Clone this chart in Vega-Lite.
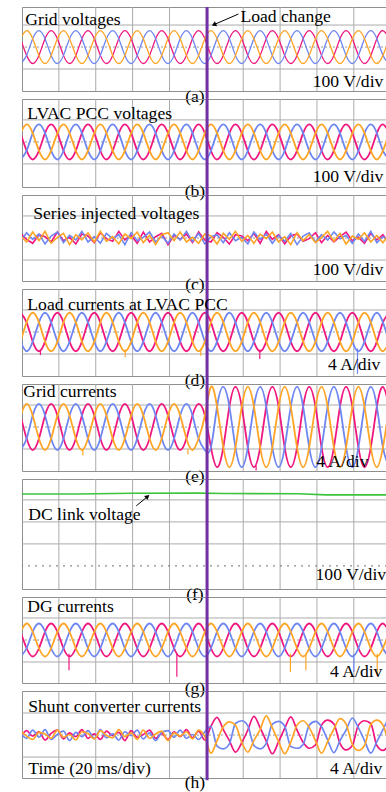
{
"$schema":"https://vega.github.io/schema/vega-lite/v6.json",
"padding":{"left":21,"top":5,"right":0,"bottom":0},
"background":"white",
"bounds":"flush",
"spacing":8,
"config":{"view":{"stroke":"#8f8f8f","strokeWidth":1},"font":"Liberation Serif"},
"datasets":{
"xg":[{"t":20},{"t":40},{"t":60},{"t":80},{"t":100},{"t":120},{"t":140},{"t":160},{"t":180}],
"dc":[{"t":0,"v":327},{"t":30,"v":327},{"t":60,"v":330},{"t":95,"v":331},{"t":110,"v":329},{"t":150,"v":328},{"t":165,"v":323},{"t":198,"v":323}],
"sp":[{"p":"d","t":10,"v":-3.2,"v2":-4.2,"ph":"dp"},{"p":"d","t":56,"v":-3.2,"v2":-4.6,"ph":"do"},{"p":"d","t":97,"v":-3.0,"v2":-4.3,"ph":"do"},{"p":"d","t":129,"v":-3.2,"v2":-4.9,"ph":"dp"},{"p":"d","t":182,"v":-3.0,"v2":-7.6,"ph":"db"},{"p":"e","t":33,"v":-4.0,"v2":-5.2,"ph":"eo"},{"p":"e","t":90,"v":-4.0,"v2":-5.0,"ph":"eo"},{"p":"e","t":127,"v":-7.0,"v2":-7.9,"ph":"ep"},{"p":"g","t":25.5,"v":-2.5,"v2":-5.5,"ph":"gp"},{"p":"g","t":84,"v":-2.5,"v2":-6.7,"ph":"gp"},{"p":"g","t":145.6,"v":-2.5,"v2":-5.8,"ph":"go"},{"p":"g","t":154,"v":-2.5,"v2":-5.5,"ph":"go"},{"p":"g","t":180,"v":-2.5,"v2":-5.8,"ph":"gb"},{"p":"g","t":192.7,"v":-2.5,"v2":-6.5,"ph":"go"}],
"w":[
{"t":-0.8,"ao":38,"ab":-75,"ap":38,"bo":40,"bb":-80,"bp":40,"co":9,"cb":-15,"cp":21,"do":-1.75,"db":-1.75,"dp":3.5,"eo":2.1,"eb":-4.2,"ep":2.1,"go":1.5,"gb":-3,"gp":1.5,"ho":0.7,"hb":0.3,"hp":-0.5},
{"t":2.5,"ao":75,"ab":-38,"ap":-38,"bo":80,"bb":-40,"bp":-40,"co":-18,"cb":24,"cp":-6,"do":1.75,"db":-3.5,"dp":1.75,"eo":4.2,"eb":-2.1,"ep":-2.1,"go":3,"gb":-1.5,"gp":-1.5,"ho":-0.2,"hb":-0.6,"hp":0.8},
{"t":5.8,"ao":38,"ab":38,"ap":-75,"bo":40,"bb":40,"bp":-80,"co":27,"cb":-6,"cp":-24,"do":3.5,"db":-1.75,"dp":-1.75,"eo":2.1,"eb":2.1,"ep":-4.2,"go":1.5,"gb":1.5,"gp":-3,"ho":-0.8,"hb":0.9,"hp":-0.2},
{"t":9.2,"ao":-38,"ab":75,"ap":-38,"bo":-40,"bb":80,"bp":-40,"co":-12,"cb":18,"cp":15,"do":1.75,"db":1.75,"dp":-3.5,"eo":-2.1,"eb":4.2,"ep":-2.1,"go":-1.5,"gb":3,"gp":-1.5,"ho":0.5,"hb":-0.4,"hp":0.6},
{"t":12.5,"ao":-75,"ab":38,"ap":38,"bo":-80,"bb":40,"bp":40,"co":30,"cb":-27,"cp":6,"do":-1.75,"db":3.5,"dp":-1.75,"eo":-4.2,"eb":2.1,"ep":2.1,"go":-3,"gb":1.5,"gp":1.5,"ho":0.2,"hb":1,"hp":-0.9},
{"t":15.8,"ao":-38,"ab":-38,"ap":75,"bo":-40,"bb":-40,"bp":80,"co":-24,"cb":9,"cp":-18,"do":-3.5,"db":1.75,"dp":1.75,"eo":-2.1,"eb":-2.1,"ep":4.2,"go":-1.5,"gb":-1.5,"gp":3,"ho":-0.6,"hb":-0.8,"hp":0.3},
{"t":19.2,"ao":38,"ab":-75,"ap":38,"bo":40,"bb":-80,"bp":40,"co":3,"cb":27,"cp":27,"do":-1.75,"db":-1.75,"dp":3.5,"eo":2.1,"eb":-4.2,"ep":2.1,"go":1.5,"gb":-3,"gp":1.5,"ho":0.9,"hb":0.1,"hp":0.9},
{"t":22.5,"ao":75,"ab":-38,"ap":-38,"bo":80,"bb":-40,"bp":-40,"co":21,"cb":-21,"cp":-12,"do":1.75,"db":-3.5,"dp":1.75,"eo":4.2,"eb":-2.1,"ep":-2.1,"go":3,"gb":-1.5,"gp":-1.5,"ho":-0.4,"hb":0.7,"hp":-0.7},
{"t":25.8,"ao":38,"ab":38,"ap":-75,"bo":40,"bb":40,"bp":-80,"co":-30,"cb":12,"cp":3,"do":3.5,"db":-1.75,"dp":-1.75,"eo":2.1,"eb":2.1,"ep":-4.2,"go":1.5,"gb":1.5,"gp":-3,"ho":0.1,"hb":-1,"hp":0.4},
{"t":29.2,"ao":-38,"ab":75,"ap":-38,"bo":-40,"bb":80,"bp":-40,"co":15,"cb":-9,"cp":-27,"do":1.75,"db":1.75,"dp":-3.5,"eo":-2.1,"eb":4.2,"ep":-2.1,"go":-1.5,"gb":3,"gp":-1.5,"ho":-0.9,"hb":0.5,"hp":-0.3},
{"t":32.5,"ao":-75,"ab":38,"ap":38,"bo":-80,"bb":40,"bp":40,"co":-9,"cb":30,"cp":18,"do":-1.75,"db":3.5,"dp":-1.75,"eo":-4.2,"eb":2.1,"ep":2.1,"go":-3,"gb":1.5,"gp":1.5,"ho":0.6,"hb":-0.3,"hp":1},
{"t":35.8,"ao":-38,"ab":-38,"ap":75,"bo":-40,"bb":-40,"bp":80,"co":24,"cb":-18,"cp":9,"do":-3.5,"db":1.75,"dp":1.75,"eo":-2.1,"eb":-2.1,"ep":4.2,"go":-1.5,"gb":-1.5,"gp":3,"ho":0.3,"hb":0.8,"hp":-0.6},
{"t":39.2,"ao":38,"ab":-75,"ap":38,"bo":40,"bb":-80,"bp":40,"co":-18,"cb":6,"cp":-21,"do":-1.75,"db":-1.75,"dp":3.5,"eo":2.1,"eb":-4.2,"ep":2.1,"go":1.5,"gb":-3,"gp":1.5,"ho":-0.7,"hb":-0.6,"hp":0.2},
{"t":42.5,"ao":75,"ab":-38,"ap":-38,"bo":80,"bb":-40,"bp":-40,"co":30,"cb":-24,"cp":24,"do":1.75,"db":-3.5,"dp":1.75,"eo":4.2,"eb":-2.1,"ep":-2.1,"go":3,"gb":-1.5,"gp":-1.5,"ho":0.8,"hb":1,"hp":-0.8},
{"t":45.8,"ao":38,"ab":38,"ap":-75,"bo":40,"bb":40,"bp":-80,"co":-15,"cb":21,"cp":-3,"do":3.5,"db":-1.75,"dp":-1.75,"eo":2.1,"eb":2.1,"ep":-4.2,"go":1.5,"gb":1.5,"gp":-3,"ho":-0.1,"hb":-0.5,"hp":0.7},
{"t":49.2,"ao":-38,"ab":75,"ap":-38,"bo":-40,"bb":80,"bp":-40,"co":6,"cb":-3,"cp":-15,"do":1.75,"db":1.75,"dp":-3.5,"eo":-2.1,"eb":4.2,"ep":-2.1,"go":-1.5,"gb":3,"gp":-1.5,"ho":-0.5,"hb":0.2,"hp":-0.1},
{"t":52.5,"ao":-75,"ab":38,"ap":38,"bo":-80,"bb":40,"bp":40,"co":-27,"cb":15,"cp":30,"do":-1.75,"db":3.5,"dp":-1.75,"eo":-4.2,"eb":2.1,"ep":2.1,"go":-3,"gb":1.5,"gp":1.5,"ho":1,"hb":-0.9,"hp":0.5},
{"t":55.8,"ao":-38,"ab":-38,"ap":75,"bo":-40,"bb":-40,"bp":80,"co":18,"cb":-30,"cp":-9,"do":-3.5,"db":1.75,"dp":1.75,"eo":-2.1,"eb":-2.1,"ep":4.2,"go":-1.5,"gb":-1.5,"gp":3,"ho":-0.3,"hb":0.6,"hp":-1},
{"t":59.2,"ao":38,"ab":-75,"ap":38,"bo":40,"bb":-80,"bp":40,"co":-3,"cb":24,"cp":12,"do":-1.75,"db":-1.75,"dp":3.5,"eo":2.1,"eb":-4.2,"ep":2.1,"go":1.5,"gb":-3,"gp":1.5,"ho":0.4,"hb":-0.1,"hp":0.8},
{"t":62.5,"ao":75,"ab":-38,"ap":-38,"bo":80,"bb":-40,"bp":-40,"co":27,"cb":-12,"cp":-24,"do":1.75,"db":-3.5,"dp":1.75,"eo":4.2,"eb":-2.1,"ep":-2.1,"go":3,"gb":-1.5,"gp":-1.5,"ho":-0.8,"hb":0.9,"hp":-0.4},
{"t":65.8,"ao":38,"ab":38,"ap":-75,"bo":40,"bb":40,"bp":-80,"co":-21,"cb":3,"cp":27,"do":3.5,"db":-1.75,"dp":-1.75,"eo":2.1,"eb":2.1,"ep":-4.2,"go":1.5,"gb":1.5,"gp":-3,"ho":0.9,"hb":-0.7,"hp":0.1},
{"t":69.2,"ao":-38,"ab":75,"ap":-38,"bo":-40,"bb":80,"bp":-40,"co":12,"cb":27,"cp":-18,"do":1.75,"db":1.75,"dp":-3.5,"eo":-2.1,"eb":4.2,"ep":-2.1,"go":-1.5,"gb":3,"gp":-1.5,"ho":-0.6,"hb":0.4,"hp":0.9},
{"t":72.5,"ao":-75,"ab":38,"ap":38,"bo":-80,"bb":40,"bp":40,"co":-30,"cb":-18,"cp":6,"do":-1.75,"db":3.5,"dp":-1.75,"eo":-4.2,"eb":2.1,"ep":2.1,"go":-3,"gb":1.5,"gp":1.5,"ho":0.2,"hb":-1,"hp":-0.6},
{"t":75.8,"ao":-38,"ab":-38,"ap":75,"bo":-40,"bb":-40,"bp":80,"co":15,"cb":9,"cp":21,"do":-3.5,"db":1.75,"dp":1.75,"eo":-2.1,"eb":-2.1,"ep":4.2,"go":-1.5,"gb":-1.5,"gp":3,"ho":0.7,"hb":0.5,"hp":0.3},
{"t":79.2,"ao":38,"ab":-75,"ap":38,"bo":40,"bb":-80,"bp":40,"co":24,"cb":-24,"cp":-30,"do":-1.75,"db":-1.75,"dp":3.5,"eo":2.1,"eb":-4.2,"ep":2.1,"go":1.5,"gb":-3,"gp":1.5,"ho":-1,"hb":0.8,"hp":-0.8},
{"t":82.5,"ao":75,"ab":-38,"ap":-38,"bo":80,"bb":-40,"bp":-40,"co":-12,"cb":18,"cp":12,"do":1.75,"db":-3.5,"dp":1.75,"eo":4.2,"eb":-2.1,"ep":-2.1,"go":3,"gb":-1.5,"gp":-1.5,"ho":0.4,"hb":-0.4,"hp":0.6},
{"t":85.8,"ao":38,"ab":38,"ap":-75,"bo":40,"bb":40,"bp":-80,"co":27,"cb":-9,"cp":-6,"do":3.5,"db":-1.75,"dp":-1.75,"eo":2.1,"eb":2.1,"ep":-4.2,"go":1.5,"gb":1.5,"gp":-3,"ho":-0.2,"hb":0.9,"hp":-0.3},
{"t":89.2,"ao":-38,"ab":75,"ap":-38,"bo":-40,"bb":80,"bp":-40,"co":-18,"cb":30,"cp":18,"do":1.75,"db":1.75,"dp":-3.5,"eo":-2.1,"eb":4.2,"ep":-2.1,"go":-1.5,"gb":3,"gp":-1.5,"ho":0.6,"hb":-0.6,"hp":1},
{"t":92.5,"ao":-75,"ab":38,"ap":38,"bo":-80,"bb":40,"bp":40,"co":3,"cb":-15,"cp":-21,"do":-1.75,"db":3.5,"dp":-1.75,"eo":-4.2,"eb":2.1,"ep":2.1,"go":-3,"gb":1.5,"gp":1.5,"ho":-0.7,"hb":0.1,"hp":-0.5},
{"t":95.8,"ao":-38,"ab":-38,"ap":75,"bo":-40,"bb":-40,"bp":80,"co":-24,"cb":21,"cp":27,"do":-3.5,"db":1.75,"dp":1.75,"eo":-2.1,"eb":-2.1,"ep":4.2,"go":-1.5,"gb":-1.5,"gp":3,"ho":0.9,"hb":-0.8,"hp":0.7},
{"t":99.2,"ao":38,"ab":-75,"ap":38,"bo":40,"bb":-80,"bp":40,"co":18,"cb":-27,"cp":-9,"do":-1.75,"db":-1.75,"dp":3.5,"eo":2.1,"eb":-4.2,"ep":2.1,"go":1.5,"gb":-3,"gp":1.5,"ho":-0.3,"hb":0.6,"hp":-0.9},
{"t":102.5,"ao":75,"ab":-38,"ap":-38,"bo":80,"bb":-40,"bp":-40,"co":9,"cb":6,"cp":-18,"do":1.75,"db":-3.5,"dp":1.75,"eo":7.3,"eb":-3.7,"ep":-3.7,"go":3,"gb":-1.5,"gp":-1.5,"ho":-3.3,"hb":1.6,"hp":1.6},
{"t":105.8,"ao":38,"ab":38,"ap":-75,"bo":40,"bb":40,"bp":-80,"co":-27,"cb":15,"cp":24,"do":3.5,"db":-1.75,"dp":-1.75,"eo":3.7,"eb":3.7,"ep":-7.3,"go":1.5,"gb":1.5,"gp":-3,"ho":-1,"hb":-2,"hp":3.2},
{"t":109.2,"ao":-38,"ab":75,"ap":-38,"bo":-40,"bb":80,"bp":-40,"co":21,"cb":-21,"cp":3,"do":1.75,"db":1.75,"dp":-3.5,"eo":-3.7,"eb":7.3,"ep":-3.7,"go":-1.5,"gb":3,"gp":-1.5,"ho":1.5,"hb":-2.5,"hp":1},
{"t":112.5,"ao":-75,"ab":38,"ap":38,"bo":-80,"bb":40,"bp":40,"co":-6,"cb":24,"cp":-27,"do":-1.75,"db":3.5,"dp":-1.75,"eo":-7.3,"eb":3.7,"ep":3.7,"go":-3,"gb":1.5,"gp":1.5,"ho":2.4,"hb":-1.6,"hp":-1},
{"t":115.8,"ao":-38,"ab":-38,"ap":75,"bo":-40,"bb":-40,"bp":80,"co":30,"cb":-12,"cp":15,"do":-3.5,"db":1.75,"dp":1.75,"eo":-3.7,"eb":-3.7,"ep":7.3,"go":-1.5,"gb":-1.5,"gp":3,"ho":1.8,"hb":2.1,"hp":-3.1},
{"t":119.2,"ao":38,"ab":-75,"ap":38,"bo":40,"bb":-80,"bp":40,"co":-15,"cb":3,"cp":9,"do":-1.75,"db":-1.75,"dp":3.5,"eo":3.7,"eb":-7.3,"ep":3.7,"go":1.5,"gb":-3,"gp":1.5,"ho":-1.3,"hb":2.6,"hp":-1.4},
{"t":122.5,"ao":75,"ab":-38,"ap":-38,"bo":80,"bb":-40,"bp":-40,"co":12,"cb":-27,"cp":-12,"do":1.75,"db":-3.5,"dp":1.75,"eo":7.3,"eb":-3.7,"ep":-3.7,"go":3,"gb":-1.5,"gp":-1.5,"ho":-3.1,"hb":1.7,"hp":0.9},
{"t":125.8,"ao":38,"ab":38,"ap":-75,"bo":40,"bb":40,"bp":-80,"co":-24,"cb":27,"cp":21,"do":3.5,"db":-1.75,"dp":-1.75,"eo":3.7,"eb":3.7,"ep":-7.3,"go":1.5,"gb":1.5,"gp":-3,"ho":-1,"hb":-1.9,"hp":3.4},
{"t":129.2,"ao":-38,"ab":75,"ap":-38,"bo":-40,"bb":80,"bp":-40,"co":18,"cb":-6,"cp":-24,"do":1.75,"db":1.75,"dp":-3.5,"eo":-3.7,"eb":7.3,"ep":-3.7,"go":-1.5,"gb":3,"gp":-1.5,"ho":1,"hb":-2.5,"hp":1.3},
{"t":132.5,"ao":-75,"ab":38,"ap":38,"bo":-80,"bb":40,"bp":40,"co":-3,"cb":18,"cp":30,"do":-1.75,"db":3.5,"dp":-1.75,"eo":-7.3,"eb":3.7,"ep":3.7,"go":-3,"gb":1.5,"gp":1.5,"ho":3.5,"hb":-1.5,"hp":-1.1},
{"t":135.8,"ao":-38,"ab":-38,"ap":75,"bo":-40,"bb":-40,"bp":80,"co":27,"cb":-24,"cp":-6,"do":-3.5,"db":1.75,"dp":1.75,"eo":-3.7,"eb":-3.7,"ep":7.3,"go":-1.5,"gb":-1.5,"gp":3,"ho":1.3,"hb":2,"hp":-3.4},
{"t":139.2,"ao":38,"ab":-75,"ap":38,"bo":40,"bb":-80,"bp":40,"co":-18,"cb":12,"cp":15,"do":-1.75,"db":-1.75,"dp":3.5,"eo":3.7,"eb":-7.3,"ep":3.7,"go":1.5,"gb":-3,"gp":1.5,"ho":-1.2,"hb":2.5,"hp":-1.2},
{"t":142.5,"ao":75,"ab":-38,"ap":-38,"bo":80,"bb":-40,"bp":-40,"co":6,"cb":-15,"cp":-27,"do":1.75,"db":-3.5,"dp":1.75,"eo":7.3,"eb":-3.7,"ep":-3.7,"go":3,"gb":-1.5,"gp":-1.5,"ho":-3.4,"hb":1.6,"hp":1.2},
{"t":145.8,"ao":38,"ab":38,"ap":-75,"bo":40,"bb":40,"bp":-80,"co":-30,"cb":21,"cp":9,"do":3.5,"db":-1.75,"dp":-1.75,"eo":3.7,"eb":3.7,"ep":-7.3,"go":1.5,"gb":1.5,"gp":-3,"ho":-1.3,"hb":-2.1,"hp":3.3},
{"t":149.2,"ao":-38,"ab":75,"ap":-38,"bo":-40,"bb":80,"bp":-40,"co":24,"cb":-30,"cp":18,"do":1.75,"db":1.75,"dp":-3.5,"eo":-3.7,"eb":7.3,"ep":-3.7,"go":-1.5,"gb":3,"gp":-1.5,"ho":1.8,"hb":-2.4,"hp":0.9},
{"t":152.5,"ao":-75,"ab":38,"ap":38,"bo":-80,"bb":40,"bp":40,"co":-12,"cb":9,"cp":-15,"do":-1.75,"db":3.5,"dp":-1.75,"eo":-7.3,"eb":3.7,"ep":3.7,"go":-3,"gb":1.5,"gp":1.5,"ho":2.6,"hb":-1.7,"hp":-1.3},
{"t":155.8,"ao":-38,"ab":-38,"ap":75,"bo":-40,"bb":-40,"bp":80,"co":15,"cb":24,"cp":-3,"do":-3.5,"db":1.75,"dp":1.75,"eo":-3.7,"eb":-3.7,"ep":7.3,"go":-1.5,"gb":-1.5,"gp":3,"ho":1.4,"hb":1.8,"hp":-2.4},
{"t":159.2,"ao":38,"ab":-75,"ap":38,"bo":40,"bb":-80,"bp":40,"co":-21,"cb":-18,"cp":24,"do":-1.75,"db":-1.75,"dp":3.5,"eo":3.7,"eb":-7.3,"ep":3.7,"go":1.5,"gb":-3,"gp":1.5,"ho":-1,"hb":2.5,"hp":-1.8},
{"t":162.5,"ao":75,"ab":-38,"ap":-38,"bo":80,"bb":-40,"bp":-40,"co":3,"cb":15,"cp":-21,"do":1.75,"db":-3.5,"dp":1.75,"eo":7.3,"eb":-3.7,"ep":-3.7,"go":3,"gb":-1.5,"gp":-1.5,"ho":-3.3,"hb":1.5,"hp":1.8},
{"t":165.8,"ao":38,"ab":38,"ap":-75,"bo":40,"bb":40,"bp":-80,"co":30,"cb":-9,"cp":12,"do":3.5,"db":-1.75,"dp":-1.75,"eo":3.7,"eb":3.7,"ep":-7.3,"go":1.5,"gb":1.5,"gp":-3,"ho":-1.2,"hb":-0.9,"hp":2.7},
{"t":169.2,"ao":-38,"ab":75,"ap":-38,"bo":-40,"bb":80,"bp":-40,"co":-15,"cb":27,"cp":-18,"do":1.75,"db":1.75,"dp":-3.5,"eo":-3.7,"eb":7.3,"ep":-3.7,"go":-1.5,"gb":3,"gp":-1.5,"ho":1.1,"hb":-3.2,"hp":2},
{"t":172.5,"ao":-75,"ab":38,"ap":38,"bo":-80,"bb":40,"bp":40,"co":21,"cb":-3,"cp":6,"do":-1.75,"db":3.5,"dp":-1.75,"eo":-7.3,"eb":3.7,"ep":3.7,"go":-3,"gb":1.5,"gp":1.5,"ho":3,"hb":-1,"hp":-1.5},
{"t":175.8,"ao":-38,"ab":-38,"ap":75,"bo":-40,"bb":-40,"bp":80,"co":-27,"cb":12,"cp":27,"do":-3.5,"db":1.75,"dp":1.75,"eo":-3.7,"eb":-3.7,"ep":7.3,"go":-1.5,"gb":-1.5,"gp":3,"ho":2,"hb":0.9,"hp":-2.7},
{"t":179.2,"ao":38,"ab":-75,"ap":38,"bo":40,"bb":-80,"bp":40,"co":9,"cb":-24,"cp":-12,"do":-1.75,"db":-1.75,"dp":3.5,"eo":3.7,"eb":-7.3,"ep":3.7,"go":1.5,"gb":-3,"gp":1.5,"ho":-1.7,"hb":3.1,"hp":-1.9},
{"t":182.5,"ao":75,"ab":-38,"ap":-38,"bo":80,"bb":-40,"bp":-40,"co":-6,"cb":18,"cp":3,"do":1.75,"db":-3.5,"dp":1.75,"eo":7.3,"eb":-3.7,"ep":-3.7,"go":3,"gb":-1.5,"gp":-1.5,"ho":-2.8,"hb":1.3,"hp":1.8},
{"t":185.8,"ao":38,"ab":38,"ap":-75,"bo":40,"bb":40,"bp":-80,"co":24,"cb":-15,"cp":-24,"do":3.5,"db":-1.75,"dp":-1.75,"eo":3.7,"eb":3.7,"ep":-7.3,"go":1.5,"gb":1.5,"gp":-3,"ho":-1.9,"hb":-1,"hp":2.6},
{"t":189.2,"ao":-38,"ab":75,"ap":-38,"bo":-40,"bb":80,"bp":-40,"co":-18,"cb":30,"cp":21,"do":1.75,"db":1.75,"dp":-3.5,"eo":-3.7,"eb":7.3,"ep":-3.7,"go":-1.5,"gb":3,"gp":-1.5,"ho":1.9,"hb":-3.3,"hp":2.1},
{"t":192.5,"ao":-75,"ab":38,"ap":38,"bo":-80,"bb":40,"bp":40,"co":12,"cb":-21,"cp":-9,"do":-1.75,"db":3.5,"dp":-1.75,"eo":-7.3,"eb":3.7,"ep":3.7,"go":-3,"gb":1.5,"gp":1.5,"ho":2.7,"hb":-1.2,"hp":-1.9},
{"t":195.8,"ao":-38,"ab":-38,"ap":75,"bo":-40,"bb":-40,"bp":80,"co":-21,"cb":6,"cp":15,"do":-3.5,"db":1.75,"dp":1.75,"eo":-3.7,"eb":-3.7,"ep":7.3,"go":-1.5,"gb":-1.5,"gp":3,"ho":1.8,"hb":1,"hp":-2.8},
{"t":199.2,"ao":38,"ab":-75,"ap":38,"bo":40,"bb":-80,"bp":40,"co":18,"cb":-12,"cp":-27,"do":-1.75,"db":-1.75,"dp":3.5,"eo":3.7,"eb":-7.3,"ep":3.7,"go":1.5,"gb":-3,"gp":1.5,"ho":-2,"hb":3.3,"hp":-1.7}
]},
"vconcat":[
{"width":365,"height":84,"layer":[
{"data":{"name":"xg"},"mark":{"type":"rule","color":"#ababab","strokeWidth":1},"encoding":{"x":{"field":"t","type":"quantitative","scale":{"domain":[0,198],"nice":false,"zero":false},"axis":null}}},
{"data":{"values":[{"v":100},{"v":-100}]},"mark":{"type":"rule","color":"#ababab","strokeWidth":1},"encoding":{"y":{"field":"v","type":"quantitative","scale":{"domain":[-200,182],"nice":false,"zero":false},"axis":null}}},
{"data":{"values":[{"v":0}]},"mark":{"type":"rule","color":"#999999","strokeWidth":1,"strokeDash":[2,2]},"encoding":{"y":{"field":"v","type":"quantitative","scale":{"domain":[-200,182],"nice":false,"zero":false},"axis":null}}},
{"data":{"name":"w"},"transform":[{"fold":["ap","ab","ao"],"as":["ph","v"]}],"mark":{"type":"line","interpolate":"natural","strokeWidth":1.3,"clip":true},"encoding":{"x":{"field":"t","type":"quantitative","scale":{"domain":[0,198],"nice":false,"zero":false},"axis":null},"y":{"field":"v","type":"quantitative","scale":{"domain":[-200,182],"nice":false,"zero":false},"axis":null},"color":{"field":"ph","type":"nominal","scale":{"domain":["ap","ab","ao","bp","bb","bo","cp","cb","co","dp","db","do","ep","eb","eo","gp","gb","go","hp","hb","ho"],"range":["#F0177F","#6E86F2","#FFA526","#F0177F","#6E86F2","#FFA526","#F0177F","#6E86F2","#FFA526","#F0177F","#6E86F2","#FFA526","#F0177F","#6E86F2","#FFA526","#F0177F","#6E86F2","#FFA526","#F0177F","#6E86F2","#FFA526"]},"legend":null}}},
{"data":{"values":[{"t":100.4,"v":182,"v2":-236}]},"mark":{"type":"rule","color":"#7330A6","strokeWidth":3},"encoding":{"x":{"field":"t","type":"quantitative","scale":{"domain":[0,198],"nice":false,"zero":false},"axis":null},"y":{"field":"v","type":"quantitative","scale":{"domain":[-200,182],"nice":false,"zero":false},"axis":null},"y2":{"field":"v2"}}},
{"data":{"values":[{"t":117.4,"v":150,"t2":104.5,"v2":103}]},"mark":{"type":"rule","color":"#000000","strokeWidth":1},"encoding":{"x":{"field":"t","type":"quantitative","scale":{"domain":[0,198],"nice":false,"zero":false},"axis":null},"y":{"field":"v","type":"quantitative","scale":{"domain":[-200,182],"nice":false,"zero":false},"axis":null},"x2":{"field":"t2"},"y2":{"field":"v2"}}},
{"data":{"values":[{"t":104.5,"v":103}]},"mark":{"type":"point","shape":"triangle","filled":true,"color":"#000000","opacity":1,"size":28,"angle":246},"encoding":{"x":{"field":"t","type":"quantitative","scale":{"domain":[0,198],"nice":false,"zero":false},"axis":null},"y":{"field":"v","type":"quantitative","scale":{"domain":[-200,182],"nice":false,"zero":false},"axis":null}}},
{"data":{"values":[{"t":1.8,"v":123,"s":"Grid voltages"},{"t":118.5,"v":136,"s":"Load change"}]},"mark":{"type":"text","align":"left","baseline":"middle","fontSize":17.6,"font":"Liberation Serif","color":"#000000"},"encoding":{"x":{"field":"t","type":"quantitative","scale":{"domain":[0,198],"nice":false,"zero":false},"axis":null},"y":{"field":"v","type":"quantitative","scale":{"domain":[-200,182],"nice":false,"zero":false},"axis":null},"text":{"field":"s"}}},
{"data":{"values":[{"t":196,"v":-159,"s":"100 V/div"}]},"mark":{"type":"text","align":"right","baseline":"middle","fontSize":17.6,"font":"Liberation Serif","color":"#000000"},"encoding":{"x":{"field":"t","type":"quantitative","scale":{"domain":[0,198],"nice":false,"zero":false},"axis":null},"y":{"field":"v","type":"quantitative","scale":{"domain":[-200,182],"nice":false,"zero":false},"axis":null},"text":{"field":"s"}}},
{"data":{"values":[{"t":93.8,"v":-227,"s":"(a)"}]},"mark":{"type":"text","align":"center","baseline":"middle","fontSize":17.6,"font":"Liberation Serif","color":"#000000"},"encoding":{"x":{"field":"t","type":"quantitative","scale":{"domain":[0,198],"nice":false,"zero":false},"axis":null},"y":{"field":"v","type":"quantitative","scale":{"domain":[-200,182],"nice":false,"zero":false},"axis":null},"text":{"field":"s"}}}
]},
{"width":365,"height":88,"layer":[
{"data":{"name":"xg"},"mark":{"type":"rule","color":"#ababab","strokeWidth":1},"encoding":{"x":{"field":"t","type":"quantitative","scale":{"domain":[0,198],"nice":false,"zero":false},"axis":null}}},
{"data":{"values":[{"v":100},{"v":-100}]},"mark":{"type":"rule","color":"#ababab","strokeWidth":1},"encoding":{"y":{"field":"v","type":"quantitative","scale":{"domain":[-205,195],"nice":false,"zero":false},"axis":null}}},
{"data":{"values":[{"v":0}]},"mark":{"type":"rule","color":"#999999","strokeWidth":1,"strokeDash":[2,2]},"encoding":{"y":{"field":"v","type":"quantitative","scale":{"domain":[-205,195],"nice":false,"zero":false},"axis":null}}},
{"data":{"name":"w"},"transform":[{"fold":["bp","bb","bo"],"as":["ph","v"]}],"mark":{"type":"line","interpolate":"natural","strokeWidth":1.8,"clip":true},"encoding":{"x":{"field":"t","type":"quantitative","scale":{"domain":[0,198],"nice":false,"zero":false},"axis":null},"y":{"field":"v","type":"quantitative","scale":{"domain":[-205,195],"nice":false,"zero":false},"axis":null},"color":{"field":"ph","type":"nominal","scale":{"domain":["ap","ab","ao","bp","bb","bo","cp","cb","co","dp","db","do","ep","eb","eo","gp","gb","go","hp","hb","ho"],"range":["#F0177F","#6E86F2","#FFA526","#F0177F","#6E86F2","#FFA526","#F0177F","#6E86F2","#FFA526","#F0177F","#6E86F2","#FFA526","#F0177F","#6E86F2","#FFA526","#F0177F","#6E86F2","#FFA526","#F0177F","#6E86F2","#FFA526"]},"legend":null}}},
{"data":{"values":[{"t":100.4,"v":195,"v2":-241}]},"mark":{"type":"rule","color":"#7330A6","strokeWidth":3},"encoding":{"x":{"field":"t","type":"quantitative","scale":{"domain":[0,198],"nice":false,"zero":false},"axis":null},"y":{"field":"v","type":"quantitative","scale":{"domain":[-205,195],"nice":false,"zero":false},"axis":null},"y2":{"field":"v2"}}},
{"data":{"values":[{"t":2.9,"v":127,"s":"LVAC PCC voltages"}]},"mark":{"type":"text","align":"left","baseline":"middle","fontSize":17.6,"font":"Liberation Serif","color":"#000000"},"encoding":{"x":{"field":"t","type":"quantitative","scale":{"domain":[0,198],"nice":false,"zero":false},"axis":null},"y":{"field":"v","type":"quantitative","scale":{"domain":[-205,195],"nice":false,"zero":false},"axis":null},"text":{"field":"s"}}},
{"data":{"values":[{"t":196,"v":-159,"s":"100 V/div"}]},"mark":{"type":"text","align":"right","baseline":"middle","fontSize":17.6,"font":"Liberation Serif","color":"#000000"},"encoding":{"x":{"field":"t","type":"quantitative","scale":{"domain":[0,198],"nice":false,"zero":false},"axis":null},"y":{"field":"v","type":"quantitative","scale":{"domain":[-205,195],"nice":false,"zero":false},"axis":null},"text":{"field":"s"}}},
{"data":{"values":[{"t":93.8,"v":-227,"s":"(b)"}]},"mark":{"type":"text","align":"center","baseline":"middle","fontSize":17.6,"font":"Liberation Serif","color":"#000000"},"encoding":{"x":{"field":"t","type":"quantitative","scale":{"domain":[0,198],"nice":false,"zero":false},"axis":null},"y":{"field":"v","type":"quantitative","scale":{"domain":[-205,195],"nice":false,"zero":false},"axis":null},"text":{"field":"s"}}}
]},
{"width":365,"height":86,"layer":[
{"data":{"name":"xg"},"mark":{"type":"rule","color":"#ababab","strokeWidth":1},"encoding":{"x":{"field":"t","type":"quantitative","scale":{"domain":[0,198],"nice":false,"zero":false},"axis":null}}},
{"data":{"values":[{"v":100},{"v":-100}]},"mark":{"type":"rule","color":"#ababab","strokeWidth":1},"encoding":{"y":{"field":"v","type":"quantitative","scale":{"domain":[-195,195],"nice":false,"zero":false},"axis":null}}},
{"data":{"values":[{"v":0}]},"mark":{"type":"rule","color":"#999999","strokeWidth":1,"strokeDash":[2,2]},"encoding":{"y":{"field":"v","type":"quantitative","scale":{"domain":[-195,195],"nice":false,"zero":false},"axis":null}}},
{"data":{"name":"w"},"transform":[{"fold":["cp","cb","co"],"as":["ph","v"]}],"mark":{"type":"line","interpolate":"linear","strokeWidth":1.6,"clip":true},"encoding":{"x":{"field":"t","type":"quantitative","scale":{"domain":[0,198],"nice":false,"zero":false},"axis":null},"y":{"field":"v","type":"quantitative","scale":{"domain":[-195,195],"nice":false,"zero":false},"axis":null},"color":{"field":"ph","type":"nominal","scale":{"domain":["ap","ab","ao","bp","bb","bo","cp","cb","co","dp","db","do","ep","eb","eo","gp","gb","go","hp","hb","ho"],"range":["#F0177F","#6E86F2","#FFA526","#F0177F","#6E86F2","#FFA526","#F0177F","#6E86F2","#FFA526","#F0177F","#6E86F2","#FFA526","#F0177F","#6E86F2","#FFA526","#F0177F","#6E86F2","#FFA526","#F0177F","#6E86F2","#FFA526"]},"legend":null}}},
{"data":{"values":[{"t":100.4,"v":195,"v2":-232}]},"mark":{"type":"rule","color":"#7330A6","strokeWidth":3},"encoding":{"x":{"field":"t","type":"quantitative","scale":{"domain":[0,198],"nice":false,"zero":false},"axis":null},"y":{"field":"v","type":"quantitative","scale":{"domain":[-195,195],"nice":false,"zero":false},"axis":null},"y2":{"field":"v2"}}},
{"data":{"values":[{"t":6.1,"v":109,"s":"Series injected voltages"}]},"mark":{"type":"text","align":"left","baseline":"middle","fontSize":17.6,"font":"Liberation Serif","color":"#000000"},"encoding":{"x":{"field":"t","type":"quantitative","scale":{"domain":[0,198],"nice":false,"zero":false},"axis":null},"y":{"field":"v","type":"quantitative","scale":{"domain":[-195,195],"nice":false,"zero":false},"axis":null},"text":{"field":"s"}}},
{"data":{"values":[{"t":196,"v":-145,"s":"100 V/div"}]},"mark":{"type":"text","align":"right","baseline":"middle","fontSize":17.6,"font":"Liberation Serif","color":"#000000"},"encoding":{"x":{"field":"t","type":"quantitative","scale":{"domain":[0,198],"nice":false,"zero":false},"axis":null},"y":{"field":"v","type":"quantitative","scale":{"domain":[-195,195],"nice":false,"zero":false},"axis":null},"text":{"field":"s"}}},
{"data":{"values":[{"t":93.8,"v":-214,"s":"(c)"}]},"mark":{"type":"text","align":"center","baseline":"middle","fontSize":17.6,"font":"Liberation Serif","color":"#000000"},"encoding":{"x":{"field":"t","type":"quantitative","scale":{"domain":[0,198],"nice":false,"zero":false},"axis":null},"y":{"field":"v","type":"quantitative","scale":{"domain":[-195,195],"nice":false,"zero":false},"axis":null},"text":{"field":"s"}}}
]},
{"width":365,"height":87,"layer":[
{"data":{"name":"xg"},"mark":{"type":"rule","color":"#ababab","strokeWidth":1},"encoding":{"x":{"field":"t","type":"quantitative","scale":{"domain":[0,198],"nice":false,"zero":false},"axis":null}}},
{"data":{"values":[{"v":4},{"v":-4}]},"mark":{"type":"rule","color":"#ababab","strokeWidth":1},"encoding":{"y":{"field":"v","type":"quantitative","scale":{"domain":[-8,7.82],"nice":false,"zero":false},"axis":null}}},
{"data":{"values":[{"v":0}]},"mark":{"type":"rule","color":"#999999","strokeWidth":1,"strokeDash":[2,2]},"encoding":{"y":{"field":"v","type":"quantitative","scale":{"domain":[-8,7.82],"nice":false,"zero":false},"axis":null}}},
{"data":{"name":"w"},"transform":[{"fold":["dp","db","do"],"as":["ph","v"]}],"mark":{"type":"line","interpolate":"natural","strokeWidth":1.8,"clip":true},"encoding":{"x":{"field":"t","type":"quantitative","scale":{"domain":[0,198],"nice":false,"zero":false},"axis":null},"y":{"field":"v","type":"quantitative","scale":{"domain":[-8,7.82],"nice":false,"zero":false},"axis":null},"color":{"field":"ph","type":"nominal","scale":{"domain":["ap","ab","ao","bp","bb","bo","cp","cb","co","dp","db","do","ep","eb","eo","gp","gb","go","hp","hb","ho"],"range":["#F0177F","#6E86F2","#FFA526","#F0177F","#6E86F2","#FFA526","#F0177F","#6E86F2","#FFA526","#F0177F","#6E86F2","#FFA526","#F0177F","#6E86F2","#FFA526","#F0177F","#6E86F2","#FFA526","#F0177F","#6E86F2","#FFA526"]},"legend":null}}},
{"data":{"name":"sp"},"transform":[{"filter":"datum.p == 'd'"}],"mark":{"type":"rule","strokeWidth":1.2},"encoding":{"x":{"field":"t","type":"quantitative","scale":{"domain":[0,198],"nice":false,"zero":false},"axis":null},"y":{"field":"v","type":"quantitative","scale":{"domain":[-8,7.82],"nice":false,"zero":false},"axis":null},"y2":{"field":"v2"},"color":{"field":"ph","type":"nominal","scale":{"domain":["ap","ab","ao","bp","bb","bo","cp","cb","co","dp","db","do","ep","eb","eo","gp","gb","go","hp","hb","ho"],"range":["#F0177F","#6E86F2","#FFA526","#F0177F","#6E86F2","#FFA526","#F0177F","#6E86F2","#FFA526","#F0177F","#6E86F2","#FFA526","#F0177F","#6E86F2","#FFA526","#F0177F","#6E86F2","#FFA526","#F0177F","#6E86F2","#FFA526"]},"legend":null}}},
{"data":{"values":[{"t":100.4,"v":7.82,"v2":-9.45}]},"mark":{"type":"rule","color":"#7330A6","strokeWidth":3},"encoding":{"x":{"field":"t","type":"quantitative","scale":{"domain":[0,198],"nice":false,"zero":false},"axis":null},"y":{"field":"v","type":"quantitative","scale":{"domain":[-8,7.82],"nice":false,"zero":false},"axis":null},"y2":{"field":"v2"}}},
{"data":{"values":[{"t":2.9,"v":4.9,"s":"Load currents at LVAC PCC"}]},"mark":{"type":"text","align":"left","baseline":"middle","fontSize":17.6,"font":"Liberation Serif","color":"#000000"},"encoding":{"x":{"field":"t","type":"quantitative","scale":{"domain":[0,198],"nice":false,"zero":false},"axis":null},"y":{"field":"v","type":"quantitative","scale":{"domain":[-8,7.82],"nice":false,"zero":false},"axis":null},"text":{"field":"s"}}},
{"data":{"values":[{"t":194.4,"v":-6.0,"s":"4 A/div"}]},"mark":{"type":"text","align":"right","baseline":"middle","fontSize":17.6,"font":"Liberation Serif","color":"#000000"},"encoding":{"x":{"field":"t","type":"quantitative","scale":{"domain":[0,198],"nice":false,"zero":false},"axis":null},"y":{"field":"v","type":"quantitative","scale":{"domain":[-8,7.82],"nice":false,"zero":false},"axis":null},"text":{"field":"s"}}},
{"data":{"values":[{"t":93.8,"v":-8.9,"s":"(d)"}]},"mark":{"type":"text","align":"center","baseline":"middle","fontSize":17.6,"font":"Liberation Serif","color":"#000000"},"encoding":{"x":{"field":"t","type":"quantitative","scale":{"domain":[0,198],"nice":false,"zero":false},"axis":null},"y":{"field":"v","type":"quantitative","scale":{"domain":[-8,7.82],"nice":false,"zero":false},"axis":null},"text":{"field":"s"}}}
]},
{"width":365,"height":87,"layer":[
{"data":{"name":"xg"},"mark":{"type":"rule","color":"#ababab","strokeWidth":1},"encoding":{"x":{"field":"t","type":"quantitative","scale":{"domain":[0,198],"nice":false,"zero":false},"axis":null}}},
{"data":{"values":[{"v":4},{"v":-4}]},"mark":{"type":"rule","color":"#ababab","strokeWidth":1},"encoding":{"y":{"field":"v","type":"quantitative","scale":{"domain":[-8,7.82],"nice":false,"zero":false},"axis":null}}},
{"data":{"values":[{"v":0}]},"mark":{"type":"rule","color":"#999999","strokeWidth":1,"strokeDash":[2,2]},"encoding":{"y":{"field":"v","type":"quantitative","scale":{"domain":[-8,7.82],"nice":false,"zero":false},"axis":null}}},
{"data":{"name":"w"},"transform":[{"fold":["ep","eb","eo"],"as":["ph","v"]}],"mark":{"type":"line","interpolate":"natural","strokeWidth":1.8,"clip":true},"encoding":{"x":{"field":"t","type":"quantitative","scale":{"domain":[0,198],"nice":false,"zero":false},"axis":null},"y":{"field":"v","type":"quantitative","scale":{"domain":[-8,7.82],"nice":false,"zero":false},"axis":null},"color":{"field":"ph","type":"nominal","scale":{"domain":["ap","ab","ao","bp","bb","bo","cp","cb","co","dp","db","do","ep","eb","eo","gp","gb","go","hp","hb","ho"],"range":["#F0177F","#6E86F2","#FFA526","#F0177F","#6E86F2","#FFA526","#F0177F","#6E86F2","#FFA526","#F0177F","#6E86F2","#FFA526","#F0177F","#6E86F2","#FFA526","#F0177F","#6E86F2","#FFA526","#F0177F","#6E86F2","#FFA526"]},"legend":null}}},
{"data":{"name":"sp"},"transform":[{"filter":"datum.p == 'e'"}],"mark":{"type":"rule","strokeWidth":1.2},"encoding":{"x":{"field":"t","type":"quantitative","scale":{"domain":[0,198],"nice":false,"zero":false},"axis":null},"y":{"field":"v","type":"quantitative","scale":{"domain":[-8,7.82],"nice":false,"zero":false},"axis":null},"y2":{"field":"v2"},"color":{"field":"ph","type":"nominal","scale":{"domain":["ap","ab","ao","bp","bb","bo","cp","cb","co","dp","db","do","ep","eb","eo","gp","gb","go","hp","hb","ho"],"range":["#F0177F","#6E86F2","#FFA526","#F0177F","#6E86F2","#FFA526","#F0177F","#6E86F2","#FFA526","#F0177F","#6E86F2","#FFA526","#F0177F","#6E86F2","#FFA526","#F0177F","#6E86F2","#FFA526","#F0177F","#6E86F2","#FFA526"]},"legend":null}}},
{"data":{"values":[{"t":100.4,"v":7.82,"v2":-9.45}]},"mark":{"type":"rule","color":"#7330A6","strokeWidth":3},"encoding":{"x":{"field":"t","type":"quantitative","scale":{"domain":[0,198],"nice":false,"zero":false},"axis":null},"y":{"field":"v","type":"quantitative","scale":{"domain":[-8,7.82],"nice":false,"zero":false},"axis":null},"y2":{"field":"v2"}}},
{"data":{"values":[{"t":0.7,"v":6.4,"s":"Grid currents"}]},"mark":{"type":"text","align":"left","baseline":"middle","fontSize":17.6,"font":"Liberation Serif","color":"#000000"},"encoding":{"x":{"field":"t","type":"quantitative","scale":{"domain":[0,198],"nice":false,"zero":false},"axis":null},"y":{"field":"v","type":"quantitative","scale":{"domain":[-8,7.82],"nice":false,"zero":false},"axis":null},"text":{"field":"s"}}},
{"data":{"values":[{"t":188,"v":-6.4,"s":"4 A/div"}]},"mark":{"type":"text","align":"right","baseline":"middle","fontSize":17.6,"font":"Liberation Serif","color":"#000000"},"encoding":{"x":{"field":"t","type":"quantitative","scale":{"domain":[0,198],"nice":false,"zero":false},"axis":null},"y":{"field":"v","type":"quantitative","scale":{"domain":[-8,7.82],"nice":false,"zero":false},"axis":null},"text":{"field":"s"}}},
{"data":{"values":[{"t":93.8,"v":-9.1,"s":"(e)"}]},"mark":{"type":"text","align":"center","baseline":"middle","fontSize":17.6,"font":"Liberation Serif","color":"#000000"},"encoding":{"x":{"field":"t","type":"quantitative","scale":{"domain":[0,198],"nice":false,"zero":false},"axis":null},"y":{"field":"v","type":"quantitative","scale":{"domain":[-8,7.82],"nice":false,"zero":false},"axis":null},"text":{"field":"s"}}}
]},
{"width":365,"height":110,"layer":[
{"data":{"name":"xg"},"mark":{"type":"rule","color":"#ababab","strokeWidth":1},"encoding":{"x":{"field":"t","type":"quantitative","scale":{"domain":[0,198],"nice":false,"zero":false},"axis":null}}},
{"data":{"values":[{"v":100},{"v":200},{"v":300}]},"mark":{"type":"rule","color":"#ababab","strokeWidth":1},"encoding":{"y":{"field":"v","type":"quantitative","scale":{"domain":[-105,395],"nice":false,"zero":false},"axis":null}}},
{"data":{"values":[{"v":0}]},"mark":{"type":"rule","color":"#6e6e6e","strokeWidth":1,"strokeDash":[2,5]},"encoding":{"y":{"field":"v","type":"quantitative","scale":{"domain":[-105,395],"nice":false,"zero":false},"axis":null}}},
{"data":{"name":"dc"},"mark":{"type":"line","color":"#3CC43C","strokeWidth":1.6,"clip":true},"encoding":{"x":{"field":"t","type":"quantitative","scale":{"domain":[0,198],"nice":false,"zero":false},"axis":null},"y":{"field":"v","type":"quantitative","scale":{"domain":[-105,395],"nice":false,"zero":false},"axis":null}}},
{"data":{"values":[{"t":100.4,"v":395,"v2":-141}]},"mark":{"type":"rule","color":"#7330A6","strokeWidth":3},"encoding":{"x":{"field":"t","type":"quantitative","scale":{"domain":[0,198],"nice":false,"zero":false},"axis":null},"y":{"field":"v","type":"quantitative","scale":{"domain":[-105,395],"nice":false,"zero":false},"axis":null},"y2":{"field":"v2"}}},
{"data":{"values":[{"t":62,"v":273,"t2":67.8,"v2":313}]},"mark":{"type":"rule","color":"#000000","strokeWidth":1},"encoding":{"x":{"field":"t","type":"quantitative","scale":{"domain":[0,198],"nice":false,"zero":false},"axis":null},"y":{"field":"v","type":"quantitative","scale":{"domain":[-105,395],"nice":false,"zero":false},"axis":null},"x2":{"field":"t2"},"y2":{"field":"v2"}}},
{"data":{"values":[{"t":67.8,"v":313}]},"mark":{"type":"point","shape":"triangle","filled":true,"color":"#000000","opacity":1,"size":28,"angle":50},"encoding":{"x":{"field":"t","type":"quantitative","scale":{"domain":[0,198],"nice":false,"zero":false},"axis":null},"y":{"field":"v","type":"quantitative","scale":{"domain":[-105,395],"nice":false,"zero":false},"axis":null}}},
{"data":{"values":[{"t":3.4,"v":232,"s":"DC link voltage"}]},"mark":{"type":"text","align":"left","baseline":"middle","fontSize":17.6,"font":"Liberation Serif","color":"#000000"},"encoding":{"x":{"field":"t","type":"quantitative","scale":{"domain":[0,198],"nice":false,"zero":false},"axis":null},"y":{"field":"v","type":"quantitative","scale":{"domain":[-105,395],"nice":false,"zero":false},"axis":null},"text":{"field":"s"}}},
{"data":{"values":[{"t":197.5,"v":-41,"s":"100 V/div"}]},"mark":{"type":"text","align":"right","baseline":"middle","fontSize":17.6,"font":"Liberation Serif","color":"#000000"},"encoding":{"x":{"field":"t","type":"quantitative","scale":{"domain":[0,198],"nice":false,"zero":false},"axis":null},"y":{"field":"v","type":"quantitative","scale":{"domain":[-105,395],"nice":false,"zero":false},"axis":null},"text":{"field":"s"}}},
{"data":{"values":[{"t":93.8,"v":-132,"s":"(f)"}]},"mark":{"type":"text","align":"center","baseline":"middle","fontSize":17.6,"font":"Liberation Serif","color":"#000000"},"encoding":{"x":{"field":"t","type":"quantitative","scale":{"domain":[0,198],"nice":false,"zero":false},"axis":null},"y":{"field":"v","type":"quantitative","scale":{"domain":[-105,395],"nice":false,"zero":false},"axis":null},"text":{"field":"s"}}}
]},
{"width":365,"height":86,"layer":[
{"data":{"name":"xg"},"mark":{"type":"rule","color":"#ababab","strokeWidth":1},"encoding":{"x":{"field":"t","type":"quantitative","scale":{"domain":[0,198],"nice":false,"zero":false},"axis":null}}},
{"data":{"values":[{"v":4},{"v":-4}]},"mark":{"type":"rule","color":"#ababab","strokeWidth":1},"encoding":{"y":{"field":"v","type":"quantitative","scale":{"domain":[-7.82,7.82],"nice":false,"zero":false},"axis":null}}},
{"data":{"values":[{"v":0}]},"mark":{"type":"rule","color":"#999999","strokeWidth":1,"strokeDash":[2,2]},"encoding":{"y":{"field":"v","type":"quantitative","scale":{"domain":[-7.82,7.82],"nice":false,"zero":false},"axis":null}}},
{"data":{"name":"w"},"transform":[{"fold":["gp","gb","go"],"as":["ph","v"]}],"mark":{"type":"line","interpolate":"natural","strokeWidth":1.8,"clip":true},"encoding":{"x":{"field":"t","type":"quantitative","scale":{"domain":[0,198],"nice":false,"zero":false},"axis":null},"y":{"field":"v","type":"quantitative","scale":{"domain":[-7.82,7.82],"nice":false,"zero":false},"axis":null},"color":{"field":"ph","type":"nominal","scale":{"domain":["ap","ab","ao","bp","bb","bo","cp","cb","co","dp","db","do","ep","eb","eo","gp","gb","go","hp","hb","ho"],"range":["#F0177F","#6E86F2","#FFA526","#F0177F","#6E86F2","#FFA526","#F0177F","#6E86F2","#FFA526","#F0177F","#6E86F2","#FFA526","#F0177F","#6E86F2","#FFA526","#F0177F","#6E86F2","#FFA526","#F0177F","#6E86F2","#FFA526"]},"legend":null}}},
{"data":{"name":"sp"},"transform":[{"filter":"datum.p == 'g'"}],"mark":{"type":"rule","strokeWidth":1.2},"encoding":{"x":{"field":"t","type":"quantitative","scale":{"domain":[0,198],"nice":false,"zero":false},"axis":null},"y":{"field":"v","type":"quantitative","scale":{"domain":[-7.82,7.82],"nice":false,"zero":false},"axis":null},"y2":{"field":"v2"},"color":{"field":"ph","type":"nominal","scale":{"domain":["ap","ab","ao","bp","bb","bo","cp","cb","co","dp","db","do","ep","eb","eo","gp","gb","go","hp","hb","ho"],"range":["#F0177F","#6E86F2","#FFA526","#F0177F","#6E86F2","#FFA526","#F0177F","#6E86F2","#FFA526","#F0177F","#6E86F2","#FFA526","#F0177F","#6E86F2","#FFA526","#F0177F","#6E86F2","#FFA526","#F0177F","#6E86F2","#FFA526"]},"legend":null}}},
{"data":{"values":[{"t":100.4,"v":7.82,"v2":-9.27}]},"mark":{"type":"rule","color":"#7330A6","strokeWidth":3},"encoding":{"x":{"field":"t","type":"quantitative","scale":{"domain":[0,198],"nice":false,"zero":false},"axis":null},"y":{"field":"v","type":"quantitative","scale":{"domain":[-7.82,7.82],"nice":false,"zero":false},"axis":null},"y2":{"field":"v2"}}},
{"data":{"values":[{"t":2.9,"v":6.0,"s":"DG currents"}]},"mark":{"type":"text","align":"left","baseline":"middle","fontSize":17.6,"font":"Liberation Serif","color":"#000000"},"encoding":{"x":{"field":"t","type":"quantitative","scale":{"domain":[0,198],"nice":false,"zero":false},"axis":null},"y":{"field":"v","type":"quantitative","scale":{"domain":[-7.82,7.82],"nice":false,"zero":false},"axis":null},"text":{"field":"s"}}},
{"data":{"values":[{"t":195.5,"v":-5.8,"s":"4 A/div"}]},"mark":{"type":"text","align":"right","baseline":"middle","fontSize":17.6,"font":"Liberation Serif","color":"#000000"},"encoding":{"x":{"field":"t","type":"quantitative","scale":{"domain":[0,198],"nice":false,"zero":false},"axis":null},"y":{"field":"v","type":"quantitative","scale":{"domain":[-7.82,7.82],"nice":false,"zero":false},"axis":null},"text":{"field":"s"}}},
{"data":{"values":[{"t":93.8,"v":-8.9,"s":"(g)"}]},"mark":{"type":"text","align":"center","baseline":"middle","fontSize":17.6,"font":"Liberation Serif","color":"#000000"},"encoding":{"x":{"field":"t","type":"quantitative","scale":{"domain":[0,198],"nice":false,"zero":false},"axis":null},"y":{"field":"v","type":"quantitative","scale":{"domain":[-7.82,7.82],"nice":false,"zero":false},"axis":null},"text":{"field":"s"}}}
]},
{"width":365,"height":87,"layer":[
{"data":{"name":"xg"},"mark":{"type":"rule","color":"#ababab","strokeWidth":1},"encoding":{"x":{"field":"t","type":"quantitative","scale":{"domain":[0,198],"nice":false,"zero":false},"axis":null}}},
{"data":{"values":[{"v":4},{"v":-4}]},"mark":{"type":"rule","color":"#ababab","strokeWidth":1},"encoding":{"y":{"field":"v","type":"quantitative","scale":{"domain":[-7.8,8],"nice":false,"zero":false},"axis":null}}},
{"data":{"values":[{"v":0}]},"mark":{"type":"rule","color":"#999999","strokeWidth":1,"strokeDash":[2,2]},"encoding":{"y":{"field":"v","type":"quantitative","scale":{"domain":[-7.8,8],"nice":false,"zero":false},"axis":null}}},
{"data":{"name":"w"},"transform":[{"fold":["hp","hb","ho"],"as":["ph","v"]}],"mark":{"type":"line","interpolate":"monotone","strokeWidth":1.7,"clip":true},"encoding":{"x":{"field":"t","type":"quantitative","scale":{"domain":[0,198],"nice":false,"zero":false},"axis":null},"y":{"field":"v","type":"quantitative","scale":{"domain":[-7.8,8],"nice":false,"zero":false},"axis":null},"color":{"field":"ph","type":"nominal","scale":{"domain":["ap","ab","ao","bp","bb","bo","cp","cb","co","dp","db","do","ep","eb","eo","gp","gb","go","hp","hb","ho"],"range":["#F0177F","#6E86F2","#FFA526","#F0177F","#6E86F2","#FFA526","#F0177F","#6E86F2","#FFA526","#F0177F","#6E86F2","#FFA526","#F0177F","#6E86F2","#FFA526","#F0177F","#6E86F2","#FFA526","#F0177F","#6E86F2","#FFA526"]},"legend":null}}},
{"data":{"values":[{"t":100.4,"v":8,"v2":-8.2}]},"mark":{"type":"rule","color":"#7330A6","strokeWidth":3},"encoding":{"x":{"field":"t","type":"quantitative","scale":{"domain":[0,198],"nice":false,"zero":false},"axis":null},"y":{"field":"v","type":"quantitative","scale":{"domain":[-7.8,8],"nice":false,"zero":false},"axis":null},"y2":{"field":"v2"}}},
{"data":{"values":[{"t":3.4,"v":5.1,"s":"Shunt converter currents"},{"t":3.4,"v":-6.2,"s":"Time (20 ms/div)"}]},"mark":{"type":"text","align":"left","baseline":"middle","fontSize":17.6,"font":"Liberation Serif","color":"#000000"},"encoding":{"x":{"field":"t","type":"quantitative","scale":{"domain":[0,198],"nice":false,"zero":false},"axis":null},"y":{"field":"v","type":"quantitative","scale":{"domain":[-7.8,8],"nice":false,"zero":false},"axis":null},"text":{"field":"s"}}},
{"data":{"values":[{"t":195.5,"v":-6.2,"s":"4 A/div"}]},"mark":{"type":"text","align":"right","baseline":"middle","fontSize":17.6,"font":"Liberation Serif","color":"#000000"},"encoding":{"x":{"field":"t","type":"quantitative","scale":{"domain":[0,198],"nice":false,"zero":false},"axis":null},"y":{"field":"v","type":"quantitative","scale":{"domain":[-7.8,8],"nice":false,"zero":false},"axis":null},"text":{"field":"s"}}},
{"data":{"values":[{"t":93.8,"v":-8.75,"s":"(h)"}]},"mark":{"type":"text","align":"center","baseline":"middle","fontSize":17.6,"font":"Liberation Serif","color":"#000000"},"encoding":{"x":{"field":"t","type":"quantitative","scale":{"domain":[0,198],"nice":false,"zero":false},"axis":null},"y":{"field":"v","type":"quantitative","scale":{"domain":[-7.8,8],"nice":false,"zero":false},"axis":null},"text":{"field":"s"}}}
]}
]
}
